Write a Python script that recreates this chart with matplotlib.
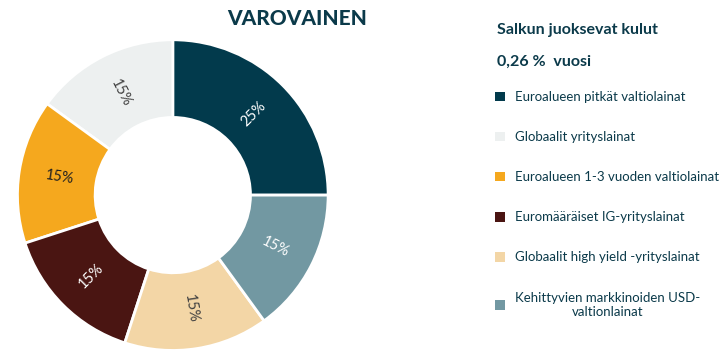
import numpy as np
import matplotlib
matplotlib.use("Agg")
import matplotlib.pyplot as plt

# osuudet (%) legendan järjestyksessä
nimet = ["Euroalueen pitkät valtiolainat",
         "Globaalit yrityslainat",
         "Euroalueen 1-3 vuoden valtiolainat",
         "Euromääräiset IG-yrityslainat",
         "Globaalit high yield -yrityslainat",
         "Kehittyvien markkinoiden USD-\nvaltionlainat"]
osuudet = [25, 15, 15, 15, 15, 15]
varit = ["#023a4c", "#edf0f0", "#f5a81e", "#4a1512", "#f3d6a6", "#7298a2"]
tekstivarit = ["white", "#404040", "#202020", "white", "#404040", "white"]

otsikko = "VAROVAINEN"
kulut_otsikko = "Salkun juoksevat kulut"
kulut = "0,26 %  vuosi"

plt.rcParams['font.family'] = ['Lato', 'DejaVu Sans']
tumma = "#0b3a4a"

fig = plt.figure(figsize=(7.23, 3.63), dpi=100)
ax = fig.add_axes([0.022, 0.030, 0.434, 0.865])

wedges, _ = ax.pie(osuudet, colors=varit, startangle=0, counterclock=True,
                   radius=1.0, wedgeprops=dict(width=0.5, edgecolor="white", linewidth=2))
ax.set_aspect("equal")
ax.set_xlim(-1.01, 1.01)
ax.set_ylim(-1.01, 1.01)

# prosenttitekstit säteen suuntaisesti
for w, v, c in zip(wedges, osuudet, tekstivarit):
    kulma = (w.theta1 + w.theta2) / 2
    r = 0.74
    x = r * np.cos(np.radians(kulma))
    y = r * np.sin(np.radians(kulma))
    rot = kulma
    if rot > 90 and rot <= 270:
        rot = rot - 180
    elif rot > 270:
        rot = rot - 360
    ax.text(x, y, f"{v}%", color=c, fontsize=10.5, rotation=rot,
            ha="center", va="center", rotation_mode="anchor")

fig.text(0.411, 0.95, otsikko, fontsize=15, fontweight="black", color=tumma,
         ha="center", va="center")
fig.text(0.688, 0.917, kulut_otsikko, fontsize=11.5, fontweight="bold", color=tumma,
         ha="left", va="center")
fig.text(0.688, 0.829, kulut, fontsize=11.5, fontweight="bold", color=tumma,
         ha="left", va="center")

leg = fig.legend(wedges, nimet, loc="upper left", bbox_to_anchor=(0.668, 0.782),
                 frameon=False, fontsize=9.5, labelspacing=2.13, handlelength=0.75,
                 handleheight=0.75, handletextpad=0.8, labelcolor=tumma)
for t in leg.get_texts():
    t.set_multialignment("center")
for h in leg.legend_handles:
    h.set_edgecolor("none")

fig.savefig("out.png", dpi=100)
